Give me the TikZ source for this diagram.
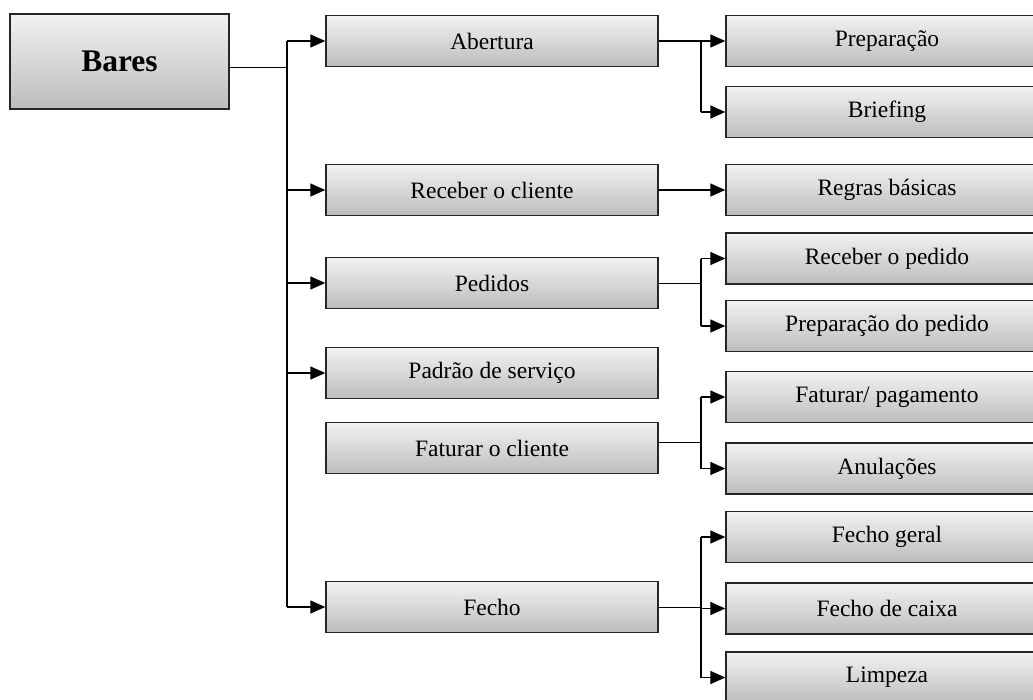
\documentclass[tikz,border=0pt]{standalone}
\usepackage{fontspec}
\setmainfont{Liberation Serif}
\usetikzlibrary{arrows.meta}
\begin{document}
\begin{tikzpicture}[x=1pt,y=-1pt,
  box/.style={draw=black!85, line width=1.4pt, rectangle, inner sep=0pt,
    top color=black!5, bottom color=black!26,
    font=\fontsize{23.5}{26}\selectfont},
  midbox/.style={box, minimum width=332pt, minimum height=51pt},
  sidebox/.style={box, minimum width=322pt, minimum height=51pt},
  link/.style={line width=1.4pt, -{Triangle[length=15pt,width=13pt]}},
  thin/.style={line width=1pt},
  wire/.style={line width=1.4pt}]
\useasboundingbox (0,0) rectangle (1033,699);
\clip (0,0) rectangle (1033,699);

% root
\node[box, minimum width=219pt, minimum height=95pt,
      font=\fontsize{31.5}{34}\bfseries\selectfont] (bares) at (119.5,61.5) {Bares};

% second level
\node[midbox] (abertura) at (492,41)  {Abertura};
\node[midbox] (receber)  at (492,190) {Receber o cliente};
\node[midbox] (pedidos)  at (492,283) {Pedidos};
\node[midbox] (padrao)   at (492,373) {Padrão de serviço};
\node[midbox] (faturar)  at (492,448) {Faturar o cliente};
\node[midbox] (fecho)    at (492,607) {Fecho};

% third level
\node[sidebox] (prep)     at (887,41)    {Preparação};
\node[sidebox] (briefing) at (887,112)   {Briefing};
\node[sidebox] (regras)   at (887,190)   {Regras básicas};
\node[sidebox] (recped)   at (887,258.5) {Receber o pedido};
\node[sidebox] (prepped)  at (887,326)   {Preparação do pedido};
\node[sidebox] (fatpag)   at (887,397)   {Faturar/ pagamento};
\node[sidebox] (anul)     at (887,468.5) {Anulações};
\node[sidebox] (fgeral)   at (887,537)   {Fecho geral};
\node[sidebox] (fcaixa)   at (887,608.5) {Fecho de caixa};
\node[sidebox] (limpeza)  at (887,677.5) {Limpeza};

% trunk from the root
\coordinate (tr) at (287,67);
\coordinate (trtop) at (287,41);
\coordinate (trbot) at (287,607);
\draw[thin] (bares.east |- tr) -- (tr);
\draw[wire] (trtop) -- (trbot);
\foreach \n in {abertura,receber,pedidos,padrao,fecho}
  \draw[link] (trtop |- \n.west) -- (\n.west);

% branches to the third level
\coordinate (bx) at (701,0);
\draw[wire] (abertura.east) -- (bx |- abertura.east);
\draw[wire] (bx |- prep.west) -- (bx |- briefing.west);
\foreach \n in {prep,briefing}
  \draw[link] (bx |- \n.west) -- (\n.west);

\draw[link] (receber.east) -- (regras.west);

\draw[thin] (pedidos.east) -- (bx |- pedidos.east);
\draw[wire] (bx |- recped.west) -- (bx |- prepped.west);
\foreach \n in {recped,prepped}
  \draw[link] (bx |- \n.west) -- (\n.west);

\coordinate (fo) at (658,442);
\draw[thin] (faturar.east |- fo) -- (bx |- fo);
\draw[wire] (bx |- fatpag.west) -- (bx |- anul.west);
\foreach \n in {fatpag,anul}
  \draw[link] (bx |- \n.west) -- (\n.west);

\draw[thin] (fecho.east) -- (bx |- fecho.east);
\draw[wire] (bx |- fgeral.west) -- (bx |- limpeza.west);
\foreach \n in {fgeral,fcaixa,limpeza}
  \draw[link] (bx |- \n.west) -- (\n.west);
\end{tikzpicture}
\end{document}
